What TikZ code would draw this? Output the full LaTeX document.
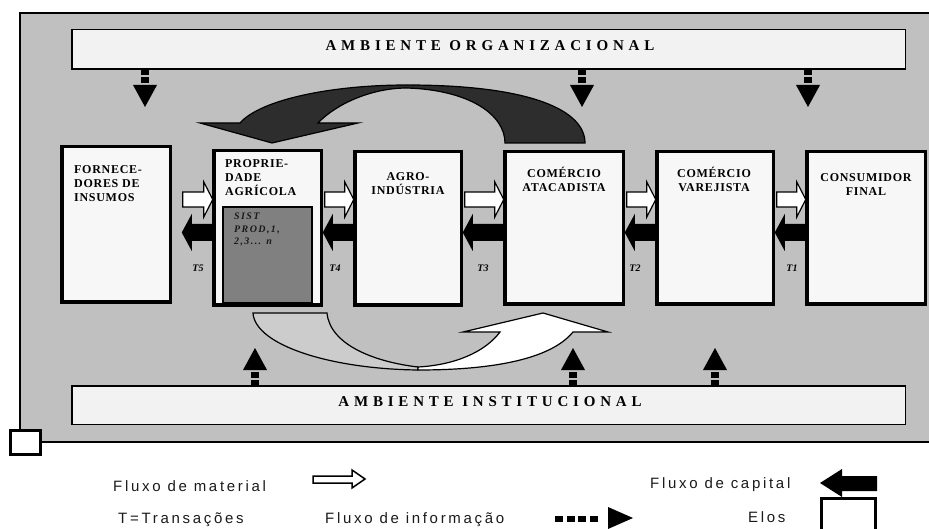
\documentclass[tikz,border=0pt]{standalone}
\usepackage{fontspec}
\setmainfont{Liberation Serif}
\newfontfamily\boxfont[LetterSpace=6]{Liberation Serif}
\newfontfamily\sistfont[LetterSpace=14]{Liberation Serif}
\newfontfamily\bandfont[LetterSpace=32]{Liberation Serif}
\newfontfamily\legfont[LetterSpace=18]{Liberation Sans}
\definecolor{panelgray}{HTML}{C0C0C0}
\definecolor{bandfill}{HTML}{F2F2F2}
\definecolor{elofill}{HTML}{F7F7F7}
\definecolor{sistgray}{HTML}{808080}
\definecolor{darkflow}{HTML}{2D2D2D}
\definecolor{lightflow}{HTML}{CCCCCC}
\definecolor{legink}{HTML}{1A1A1A}

\tikzset{
  elo/.style={draw, line width=3.5pt, fill=elofill, inner sep=0pt, outer sep=0pt},
  band/.style={draw, line width=1.5pt, fill=bandfill, inner sep=0pt},
  bandtext/.style={font=\bandfont\bfseries\fontsize{15}{17}\selectfont, inner sep=0pt},
  elotext/.style={font=\boxfont\bfseries\fontsize{12}{14}\selectfont, inner sep=0pt},
  sisttext/.style={font=\sistfont\bfseries\itshape\fontsize{10}{12.5}\selectfont, text=legink, inner sep=0pt},
  ttext/.style={font=\bfseries\itshape\fontsize{10}{11}\selectfont, inner sep=0pt},
  legtext/.style={font=\legfont\fontsize{15}{17}\selectfont, text=legink, inner sep=0pt},
  pics/infoarrow/.style={code={
    \fill (0,0) -- (-12,-22) -- (12,-22) -- cycle;
    \fill (-4,-24) rectangle (4,-30);
    \fill (-4,-32) rectangle (4,-37);
  }},
  pics/matflow/.style={code={
    \draw[line width=1.2pt, fill=white] (-#1,-7.5) -- (-10,-7.5) -- (-10,-17.5)
      -- (-1,0) -- (-10,17.5) -- (-10,7.5) -- (-#1,7.5) -- cycle;
  }},
  pics/capflow/.style={code={
    \fill (-1,-8.5) -- (-#1+10,-8.5) -- (-#1+10,-18.5) -- (-#1,0)
      -- (-#1+10,18.5) -- (-#1+10,8.5) -- (-1,8.5) -- cycle;
  }},
}

\begin{document}
\begin{tikzpicture}[x=1pt, y=-1pt]
  \useasboundingbox (0,0) rectangle (929,529);

  % painel
  \fill[panelgray] (20,13) rectangle (929,442);
  \draw[line width=1.5pt] (929,13) -- (20,13) -- (20,442) -- (929,442);

  % ambientes
  \node[band, minimum width=833.5pt, minimum height=39.5pt] (org) at (488.5,49.5) {};
  \node[bandtext] (orgtext) at (490,46) {AMBIENTE ORGANIZACIONAL};
  \node[band, minimum width=833.5pt, minimum height=38.5pt] (inst) at (488.5,405) {};
  \node[bandtext] (insttext) at (490,402) {AMBIENTE INSTITUCIONAL};

  % fluxo de informacao
  \pic at (145,107) {infoarrow};
  \pic at (582,107) {infoarrow};
  \pic at (808,107) {infoarrow};
  \pic[rotate=180] at (255,348) {infoarrow};
  \pic[rotate=180] at (573,348) {infoarrow};
  \pic[rotate=180] at (715,348) {infoarrow};

  % setas curvas
  \draw[line width=1.2pt, fill=darkflow] (505,143) -- (585,143)
    .. controls (585,110) and (530,85) .. (407,85)
    .. controls (330,85) and (260,100) .. (240,123)
    -- (200,123) -- (272,143) -- (358,123) -- (318,123)
    .. controls (335,105) and (370,88) .. (407,88)
    .. controls (470,90) and (505,115) .. (505,143) -- cycle;
  \draw[line width=1.2pt, fill=lightflow] (253,313) -- (327,313)
    .. controls (330,345) and (375,362) .. (418,367) -- (418,370)
    .. controls (330,369) and (255,345) .. (253,313) -- cycle;
  \draw[line width=1.2pt, fill=white] (418,367)
    .. controls (455,365) and (485,352) .. (500,332)
    -- (463,332) -- (543,313) -- (608,332) -- (573,332)
    .. controls (550,360) and (490,370) .. (418,370) -- cycle;

  % elos
  \node[elo, minimum width=108.5pt, minimum height=155.5pt] (forn) at (116,224.5) {};
  \node[elo, minimum width=107.5pt, minimum height=154.5pt] (prop) at (267.5,228) {};
  \node[elo, minimum width=106.5pt, minimum height=153.5pt] (agro) at (408,228.5) {};
  \node[elo, minimum width=118.5pt, minimum height=152.5pt] (atac) at (564,228) {};
  \node[elo, minimum width=116.5pt, minimum height=152.5pt] (varej) at (715,228) {};
  \node[elo, minimum width=118.5pt, minimum height=152.5pt] (cons) at (866,228) {};
  \node[draw, line width=2pt, fill=sistgray, inner sep=0pt,
        minimum width=89pt, minimum height=96pt] (sist) at (267.5,255) {};

  % material e capital
  \pic at (prop.west |- 0,199.5) {matflow=31};
  \pic at (agro.west |- 0,199.5) {matflow=30};
  \pic at (atac.west |- 0,199.5) {matflow=40};
  \pic at (varej.west |- 0,199.5) {matflow=30};
  \pic at (cons.west |- 0,199.5) {matflow=30};
  \pic at (prop.west |- 0,232.5) {capflow=32};
  \pic at (agro.west |- 0,232.5) {capflow=32};
  \pic at (atac.west |- 0,232.5) {capflow=42};
  \pic at (varej.west |- 0,232.5) {capflow=32};
  \pic at (cons.west |- 0,232.5) {capflow=32};

  % textos
  \node[elotext, align=left, anchor=north west] (forntext) at (74,165) {FORNECE-\\DORES DE\\INSUMOS};
  \node[elotext, align=left, anchor=north west] (proptext) at (225,159) {PROPRIE-\\DADE\\AGRÍCOLA};
  \node[elotext, align=center, anchor=north] (agrotext) at (408,172) {AGRO-\\INDÚSTRIA};
  \node[elotext, align=center, anchor=north] (atactext) at (564,167) {COMÉRCIO\\ATACADISTA};
  \node[elotext, align=center, anchor=north] (varejtext) at (714,167) {COMÉRCIO\\VAREJISTA};
  \node[elotext, align=center, anchor=north] (constext) at (866,173) {CONSUMIDOR\\FINAL};
  \node[sisttext, align=left, anchor=north west] (sisttxt) at (234,213) {SIST\\PROD,1,\\2,3... n};

  \node[ttext] (t5) at (198,268) {T5};
  \node[ttext] (t4) at (335,268) {T4};
  \node[ttext] (t3) at (483,268) {T3};
  \node[ttext] (t2) at (635,268) {T2};
  \node[ttext] (t1) at (792,268) {T1};

  % legenda
  \draw[line width=3pt, fill=white] (10.5,430.5) rectangle (40.5,454.5);
  \node[legtext, anchor=base west] (lmat) at (113,491) {Fluxo de material};
  \node[legtext, anchor=base west] (ltrans) at (118,523) {T=Transações};
  \node[legtext, anchor=base west] (linfo) at (325,523) {Fluxo de informação};
  \node[legtext, anchor=base west] (lcap) at (650,488) {Fluxo de capital};
  \node[legtext, anchor=base west] (lelos) at (748,522) {Elos};
  \draw[line width=1.5pt, fill=white] (313,476) -- (352,476) -- (352,470) -- (365,479)
    -- (352,488) -- (352,483) -- (313,483) -- cycle;
  \foreach \x in {555,566.5,578,589.5}
    \fill (\x,515.5) rectangle ++(8,6);
  \fill (608,507) -- (633,518) -- (608,529) -- cycle;
  \fill (877,476) -- (842,476) -- (842,469) -- (820,483) -- (842,497)
    -- (842,491) -- (877,491) -- cycle;
  \draw[line width=3pt] (821.5,529) -- (821.5,498.5) -- (875.5,498.5) -- (875.5,529);
\end{tikzpicture}
\end{document}
